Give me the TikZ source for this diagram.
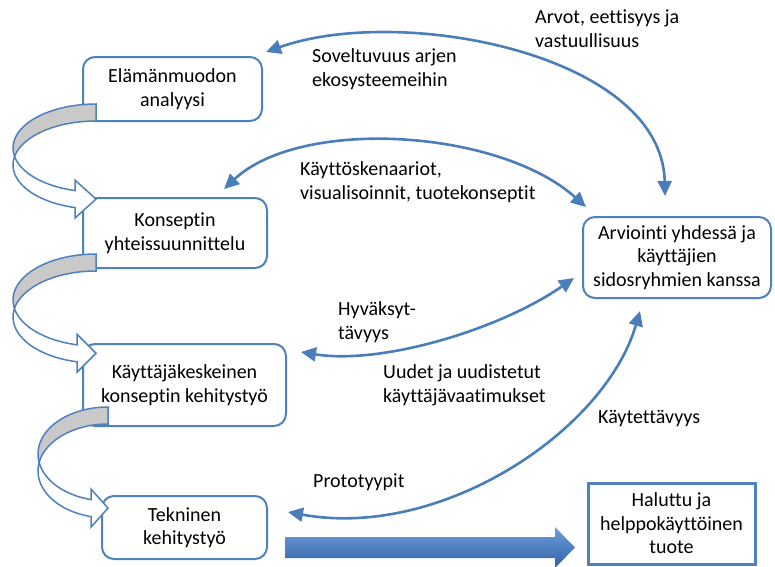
\documentclass[tikz,border=0pt]{standalone}
\usepackage{fontspec}
\setmainfont{Carlito}[Ligatures=NoCommon]
\usetikzlibrary{arrows.meta}

\definecolor{boxblue}{HTML}{4F81BD}
\definecolor{linkblue}{HTML}{4A7EBB}
\definecolor{backgray}{HTML}{C9C9C9}
\definecolor{flowlight}{HTML}{6F9EDC}
\definecolor{flowmid}{HTML}{4A80C9}
\definecolor{flowdark}{HTML}{3262A8}

% Curved "band" arrow made of two equal ellipses, the lower one shifted down
% #1 centre x, #2 centre y of upper ellipse (downwards), #3 x radius, #4 y radius,
% #5 band thickness, #6 x of the head base, #7 barb overhang
\newcommand{\bandarrow}[7]{%
  \pgfmathsetmacro{\baY}{-(#2)}%
  \pgfmathsetmacro{\bbY}{-(#2)-(#5)}%
  \pgfmathsetmacro{\angA}{180+asin((#5)/2/(#4))}%
  \pgfmathsetmacro{\angB}{180-asin((#5)/2/(#4))}%
  \pgfmathsetmacro{\angE}{360-acos(((#6)-(#1))/(#3))}%
  \pgfmathsetmacro{\yAe}{\baY+(#4)*sin(\angE)}%
  \pgfmathsetmacro{\yBe}{\bbY+(#4)*sin(\angE)}%
  \pgfmathsetmacro{\yTip}{(\yAe+\yBe)/2}%
  \pgfmathsetmacro{\xI}{(#1)+(#3)*cos(\angA)}%
  \pgfmathsetmacro{\yI}{\baY+(#4)*sin(\angA)}%
  \filldraw[bandback] (#1,\baY+#4)
    arc[start angle=90,end angle=\angA,x radius=#3,y radius=#4]
    arc[start angle=\angB,end angle=90,x radius=#3,y radius=#4] -- cycle;
  \filldraw[bandfront] (\xI,\yI)
    arc[start angle=\angA,end angle=\angE,x radius=#3,y radius=#4]
    -- (#6,\yAe+#7) -- (#1,\yTip) -- (#6,\yBe-#7) -- (#6,\yBe)
    arc[start angle=\angE,end angle=\angB,x radius=#3,y radius=#4] -- cycle;
}

\begin{document}
\begin{tikzpicture}[x=1pt,y=1pt,
  every node/.style={font=\fontsize{20}{23.5}\selectfont, inner sep=0pt},
  phase/.style={draw=boxblue, line width=2pt, rounded corners=12pt, align=center, fill=white},
  result/.style={draw=boxblue, line width=3pt, align=center, fill=white},
  link/.style={draw=linkblue, line width=2.6pt, <->},
  >={Triangle[length=15pt,width=14pt]},
  linktext/.style={anchor=base west, align=left},
  bandback/.style={draw=boxblue, fill=backgray, line width=1.5pt},
  bandfront/.style={draw=boxblue, fill=white, line width=1.5pt},
]
\useasboundingbox (0,0) rectangle (775,-566);

% process phases
\node[phase, minimum width=179pt, minimum height=64pt] (b1) at (172.5,-89) {Elämänmuodon\\analyysi};
\node[phase, minimum width=184pt, minimum height=70pt] (b2) at (175,-233) {Konseptin\\yhteissuunnittelu};
\node[phase, minimum width=203pt, minimum height=82pt] (b3) at (184.5,-385) {Käyttäjäkeskeinen\\konseptin kehitystyö};
\node[phase, minimum width=165pt, minimum height=63pt] (b4) at (184.5,-527.5) {Tekninen\\kehitystyö};
\node[phase, minimum width=188pt, minimum height=81pt] (b5) at (677,-257.5) {Arviointi yhdessä ja\\käyttäjien\\sidosryhmien kanssa};
\node[result, minimum width=167pt, minimum height=81pt] (b6) at (671.5,-523.5) {Haluttu ja\\helppokäyttöinen\\tuote};

% curved arrows between consecutive phases
\bandarrow{96}{148}{83}{44}{17}{75}{10.5}
\bandarrow{96}{300}{83}{46}{17}{77}{10.5}
\bandarrow{108}{454}{70}{47}{17}{91}{10.5}

% feedback links to and from the evaluation
\draw[link] ([xshift=-12pt,yshift=20pt]b5.north) .. controls +(-3,142) and +(135,48) .. ([xshift=3pt,yshift=4pt]b1.north east);
\draw[link] ([xshift=4pt,yshift=9pt]b5.north west) .. controls +(-87,78) and +(77,72) .. ([xshift=-44pt,yshift=8pt]b2.north east);
\draw[link] ([xshift=-8pt,yshift=-20.5pt]b5.west) .. controls +(-75,-52) and +(80,-13) .. ([xshift=14pt,yshift=33pt]b3.east);
\draw[link] ([xshift=-37pt,yshift=-12pt]b5.south) .. controls +(-35,-120) and +(153,-28) .. ([xshift=20pt,yshift=15.5pt]b4.east);

% link labels (anchored at the baseline of their last line)
\node[linktext] (t1) at (535,-47) {Arvot, eettisyys ja\\vastuullisuus};
\node[linktext] (t2) at (312,-86) {Soveltuvuus arjen\\ekosysteemeihin};
\node[linktext] (t3) at (300,-199) {Käyttöskenaariot,\\visualisoinnit, tuotekonseptit};
\node[linktext] (t4) at (338,-339) {Hyväksyt-\\tävyys};
\node[linktext] (t5) at (383,-402) {Uudet ja uudistetut\\käyttäjävaatimukset};
\node[linktext] (t6) at (598,-423) {Käytettävyys};
\node[linktext] (t7) at (313,-487) {Prototyypit};

% broad arrow towards the final product
\shade[top color=flowlight, middle color=flowmid, bottom color=flowdark]
  (285,-537) -- (555,-537) -- (555,-527) -- (575,-547.5) -- (555,-568) -- (555,-558) -- (285,-558) -- cycle;
\end{tikzpicture}
\end{document}
